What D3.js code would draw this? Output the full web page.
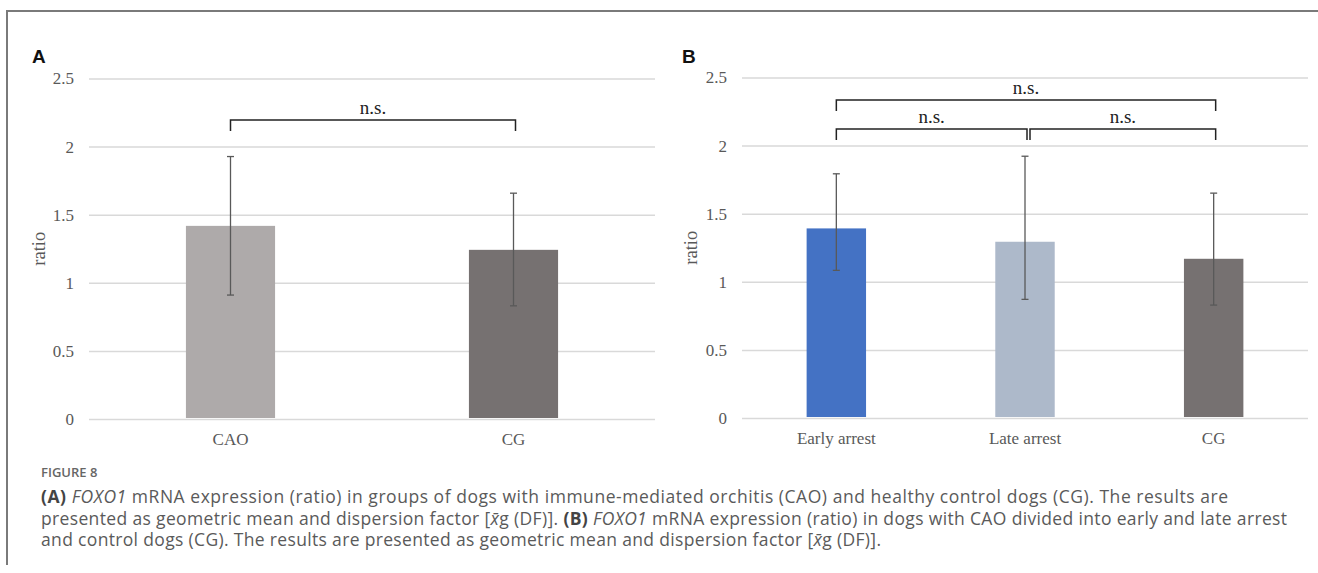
<!DOCTYPE html>
<html>
<head>
<meta charset="utf-8">
<script src="https://cdn.jsdelivr.net/npm/d3@7"></script>
<style>
  body { margin: 0; background: #fff; }
  svg { display: block; }
</style>
</head>
<body>
<div class="chart"></div>
<script>
// data
var yTicks = [0, 0.5, 1, 1.5, 2, 2.5];

var catsA = ["CAO", "CG"];
var meanA = [1.418, 1.242];
var hiA = [1.927, 1.658];
var loA = [0.910, 0.831];
var colorsA = ["#aeaaaa", "#767171"];
var compA = [[0, 1, "n.s."]];

var catsB = ["Early arrest", "Late arrest", "CG"];
var meanB = [1.392, 1.294, 1.169];
var hiB = [1.793, 1.922, 1.651];
var loB = [1.084, 0.871, 0.829];
var colorsB = ["#4472c4", "#adb9ca", "#767171"];
var compB = [[0, 1, "n.s."], [1, 2, "n.s."], [0, 2, "n.s."]];

var svgWidth = 1318;
var svgHeight = 573;

var svg = d3.select(".chart")
  .append("svg")
  .attr("width", svgWidth)
  .attr("height", svgHeight);

// frame
svg.append("path")
  .attr("d", "M7,565 L7,11 L1318,11")
  .attr("fill", "none")
  .attr("stroke", "#7a7a7a")
  .attr("stroke-width", 2);

var serif = "'Liberation Serif', 'Times New Roman', serif";

function panel(opts) {
  var cats = opts.cats;
  var x = d3.scaleBand()
    .domain(cats)
    .range([opts.left, opts.right])
    .paddingInner(0.685)
    .paddingOuter(0.3425);

  var y = d3.scaleLinear()
    .domain([0, 2.5])
    .range([opts.bottom, opts.top]);

  var g = svg.append("g");

  // gridlines + y labels
  var yAxis = g.append("g")
    .attr("transform", `translate(${opts.left}, 0)`)
    .call(d3.axisLeft(y).tickValues(yTicks).tickSize(-(opts.right - opts.left)).tickPadding(15)
      .tickFormat(d3.format("")));
  yAxis.select(".domain").remove();
  yAxis.selectAll("line")
    .attr("stroke", "#d9d9d9")
    .attr("stroke-width", 1.5);
  yAxis.selectAll("text")
    .attr("fill", "#595959")
    .style("font-family", serif)
    .style("font-size", "17px");

  // bars
  g.selectAll("rect.bar")
    .data(cats)
    .enter()
    .append("rect")
    .attr("class", "bar")
    .attr("x", d => x(d))
    .attr("width", x.bandwidth())
    .attr("y", (d, i) => y(opts.mean[i]))
    .attr("height", (d, i) => y(0) - y(opts.mean[i]) - 1)
    .attr("fill", (d, i) => opts.colors[i]);

  // x labels
  var xAxis = g.append("g")
    .attr("transform", `translate(0, ${opts.bottom})`)
    .call(d3.axisBottom(x).tickSize(0).tickPadding(14));
  xAxis.select(".domain").remove();
  xAxis.selectAll("text")
    .attr("fill", "#595959")
    .style("font-family", serif)
    .style("font-size", "17px");

  // error bars
  var cx = d => x(d) + x.bandwidth() / 2;
  var err = g.selectAll("g.err")
    .data(cats)
    .enter()
    .append("g")
    .attr("class", "err")
    .attr("stroke", "#595959")
    .attr("stroke-width", 1.3);
  err.append("line")
    .attr("x1", cx).attr("x2", cx)
    .attr("y1", (d, i) => y(opts.hi[i]))
    .attr("y2", (d, i) => y(opts.lo[i]));
  err.append("line")
    .attr("x1", d => cx(d) - 3.5).attr("x2", d => cx(d) + 3.5)
    .attr("y1", (d, i) => y(opts.hi[i])).attr("y2", (d, i) => y(opts.hi[i]));
  err.append("line")
    .attr("x1", d => cx(d) - 3.5).attr("x2", d => cx(d) + 3.5)
    .attr("y1", (d, i) => y(opts.lo[i])).attr("y2", (d, i) => y(opts.lo[i]));

  // y title
  g.append("text")
    .attr("transform", `translate(${opts.titleX}, ${(opts.top + opts.bottom) / 2}) rotate(-90)`)
    .attr("text-anchor", "middle")
    .attr("fill", "#595959")
    .style("font-family", serif)
    .style("font-size", "18.5px")
    .text("ratio");

  // panel letter
  g.append("text")
    .attr("x", opts.letterX)
    .attr("y", 63)
    .style("font-family", "'Liberation Sans', Arial, sans-serif")
    .style("font-weight", "bold")
    .style("font-size", "19px")
    .attr("fill", "#111")
    .text(opts.letter);

  // significance brackets
  opts.comps.forEach(function(c, k) {
    var by = opts.bracketY[k];
    var x1 = cx(cats[c[0]]) + (c[0] > 0 ? 5 : 0);
    var x2 = cx(cats[c[1]]) + 2;
    g.append("path")
      .attr("d", `M${x1},${by + 11} L${x1},${by} L${x2},${by} L${x2},${by + 11}`)
      .attr("fill", "none")
      .attr("stroke", "#222")
      .attr("stroke-width", 1.5);
    g.append("text")
      .attr("x", (x1 + x2) / 2)
      .attr("y", by - 6)
      .attr("text-anchor", "middle")
      .attr("fill", "#222")
      .style("font-family", serif)
      .style("font-size", "19px")
      .text(c[2]);
  });
}

panel({
  cats: catsA, mean: meanA, hi: hiA, lo: loA, colors: colorsA, comps: compA,
  left: 89, right: 655, top: 78.5, bottom: 419,
  titleX: 45, letterX: 32, letter: "A", bracketY: [120]
});

panel({
  cats: catsB, mean: meanB, hi: hiB, lo: loB, colors: colorsB, comps: compB,
  left: 742, right: 1308, top: 77.5, bottom: 418,
  titleX: 697, letterX: 682, letter: "B", bracketY: [129, 129, 100]
});

// caption
var cap = svg.append("g")
  .style("font-family", "'Open Sans', sans-serif")
  .attr("fill", "#5a5a5a");

cap.append("text")
  .attr("x", 41).attr("y", 477)
  .style("font-size", "13px")
  .style("font-weight", 600)
  .attr("fill", "#666")
  .text("FIGURE 8");

var lines = [
  [["(A)", "b"], [" "], ["FOXO1", "i"], [" mRNA expression (ratio) in groups of dogs with immune-mediated orchitis (CAO) and healthy control dogs (CG). The results are"]],
  [["presented as geometric mean and dispersion factor ["], ["x\u0304", "i"], ["g (DF)]. "], ["(B)", "b"], [" "], ["FOXO1", "i"], [" mRNA expression (ratio) in dogs with CAO divided into early and late arrest"]],
  [["and control dogs (CG). The results are presented as geometric mean and dispersion factor ["], ["x\u0304", "i"], ["g (DF)]."]]
];
var lineWidths = [1187, 1246, 840];

lines.forEach(function(parts, i) {
  var t = cap.append("text")
    .attr("x", 41)
    .attr("y", 503 + i * 21.5)
    .style("font-size", "17.5px")
    .attr("textLength", lineWidths[i])
    .attr("lengthAdjust", "spacing")
    .style("white-space", "pre");
  parts.forEach(function(p) {
    var s = t.append("tspan").text(p[0]);
    if (p[1] === "b") s.style("font-weight", 700).attr("fill", "#444");
    if (p[1] === "i") s.style("font-style", "italic");
  });
});
</script>
</body>
</html>
